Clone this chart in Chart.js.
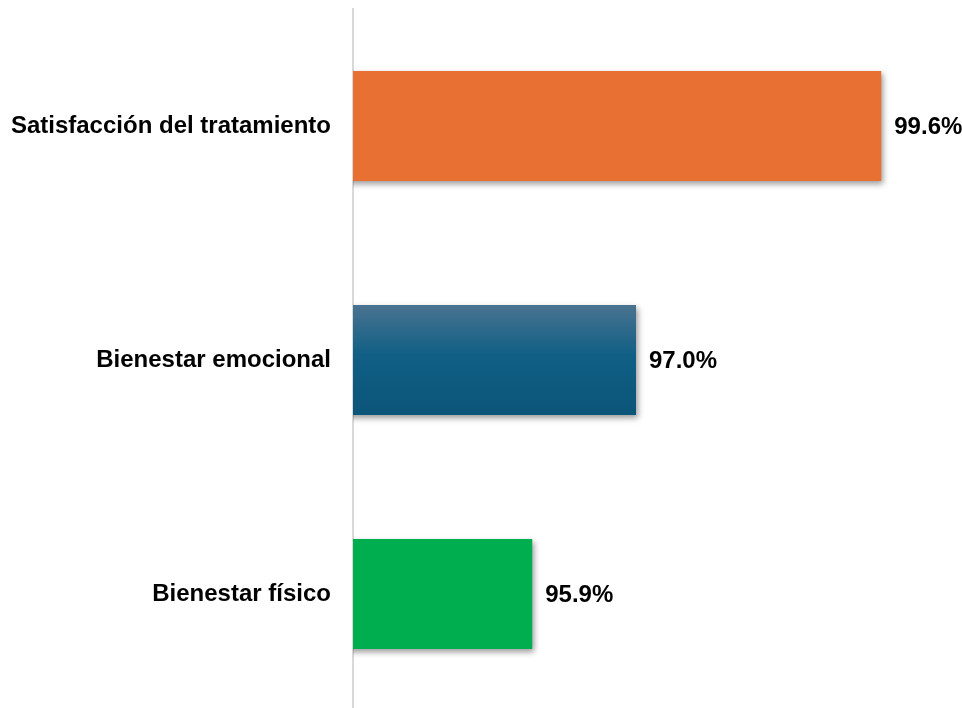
<!DOCTYPE html>
<html>
<head>
<meta charset="utf-8">
<script src="https://cdn.jsdelivr.net/npm/chart.js@4.4.1/dist/chart.umd.min.js"></script>
<style>
    html, body { margin: 0; padding: 0; background: #fff; overflow: hidden; }
    #wrap { width: 962px; height: 711px; position: relative; }
</style>
</head>
<body>
<div id="wrap"><canvas id="chart"></canvas></div>
<script>
const categories = ['Satisfacción del tratamiento', 'Bienestar emocional', 'Bienestar físico'];
const values = [99.6, 97.0, 95.9];
const valueLabels = ['99.6%', '97.0%', '95.9%'];
const barColors = ['#e87033', 'blue-gradient', '#00ae50'];
const axisMin = 94;
const axisMax = 100;

const barPct = 0.47;
const labelFont = { family: '"Liberation Sans", Arial, sans-serif', size: 24, weight: 'bold' };

// blue bar gets a vertical gradient, the others are flat
function barColor(context) {
    const c = barColors[context.dataIndex];
    if (c !== 'blue-gradient') return c;
    const chart = context.chart;
    const yScale = chart.scales.y;
    if (!yScale || !chart.chartArea) return '#0f5f85';
    const center = yScale.getPixelForValue(context.dataIndex);
    const half = (yScale.height / categories.length) * barPct / 2;
    const g = chart.ctx.createLinearGradient(0, center - half, 0, center + half);
    g.addColorStop(0, '#4a7390');
    g.addColorStop(0.45, '#115f85');
    g.addColorStop(1, '#0b5579');
    return g;
}

const shadowPlugin = {
    id: 'barShadow',
    beforeDatasetsDraw(chart) {
        const ctx = chart.ctx;
        ctx.save();
        ctx.shadowColor = 'rgba(0, 0, 0, 0.4)';
        ctx.shadowBlur = 6;
        ctx.shadowOffsetX = 2;
        ctx.shadowOffsetY = 3;
    },
    afterDatasetsDraw(chart) {
        chart.ctx.restore();
        // value labels at the end of each bar
        const ctx = chart.ctx;
        const meta = chart.getDatasetMeta(0);
        ctx.save();
        ctx.font = `${labelFont.weight} ${labelFont.size}px ${labelFont.family}`;
        ctx.fillStyle = '#000';
        ctx.textAlign = 'left';
        ctx.textBaseline = 'middle';
        meta.data.forEach((bar, i) => {
            ctx.fillText(valueLabels[i], bar.x + 13, bar.y + 1);
        });
        ctx.restore();
    }
};

const ctx = document.getElementById('chart').getContext('2d');
new Chart(ctx, {
    type: 'bar',
    data: {
        labels: categories,
        datasets: [{
            data: values,
            backgroundColor: barColor,
            borderWidth: 0,
            barPercentage: barPct,
            categoryPercentage: 1
        }]
    },
    options: {
        indexAxis: 'y',
        responsive: true,
        maintainAspectRatio: false,
        animation: false,
        layout: { padding: { top: 9, right: 43, bottom: 0, left: 0 } },
        plugins: {
            legend: { display: false },
            tooltip: { enabled: false }
        },
        scales: {
            x: {
                display: false,
                min: axisMin,
                max: axisMax
            },
            y: {
                grid: { display: false, drawTicks: false },
                border: { display: true, color: '#d9d9d9', width: 2 },
                ticks: {
                    color: '#000',
                    font: labelFont,
                    padding: 22
                },
                afterFit(scale) {
                    scale.width = 353;
                    // no extra room for half-labels at top and bottom
                    scale.paddingTop = 0;
                    scale.paddingBottom = 0;
                }
            }
        }
    },
    plugins: [shadowPlugin]
});
</script>
</body>
</html>
